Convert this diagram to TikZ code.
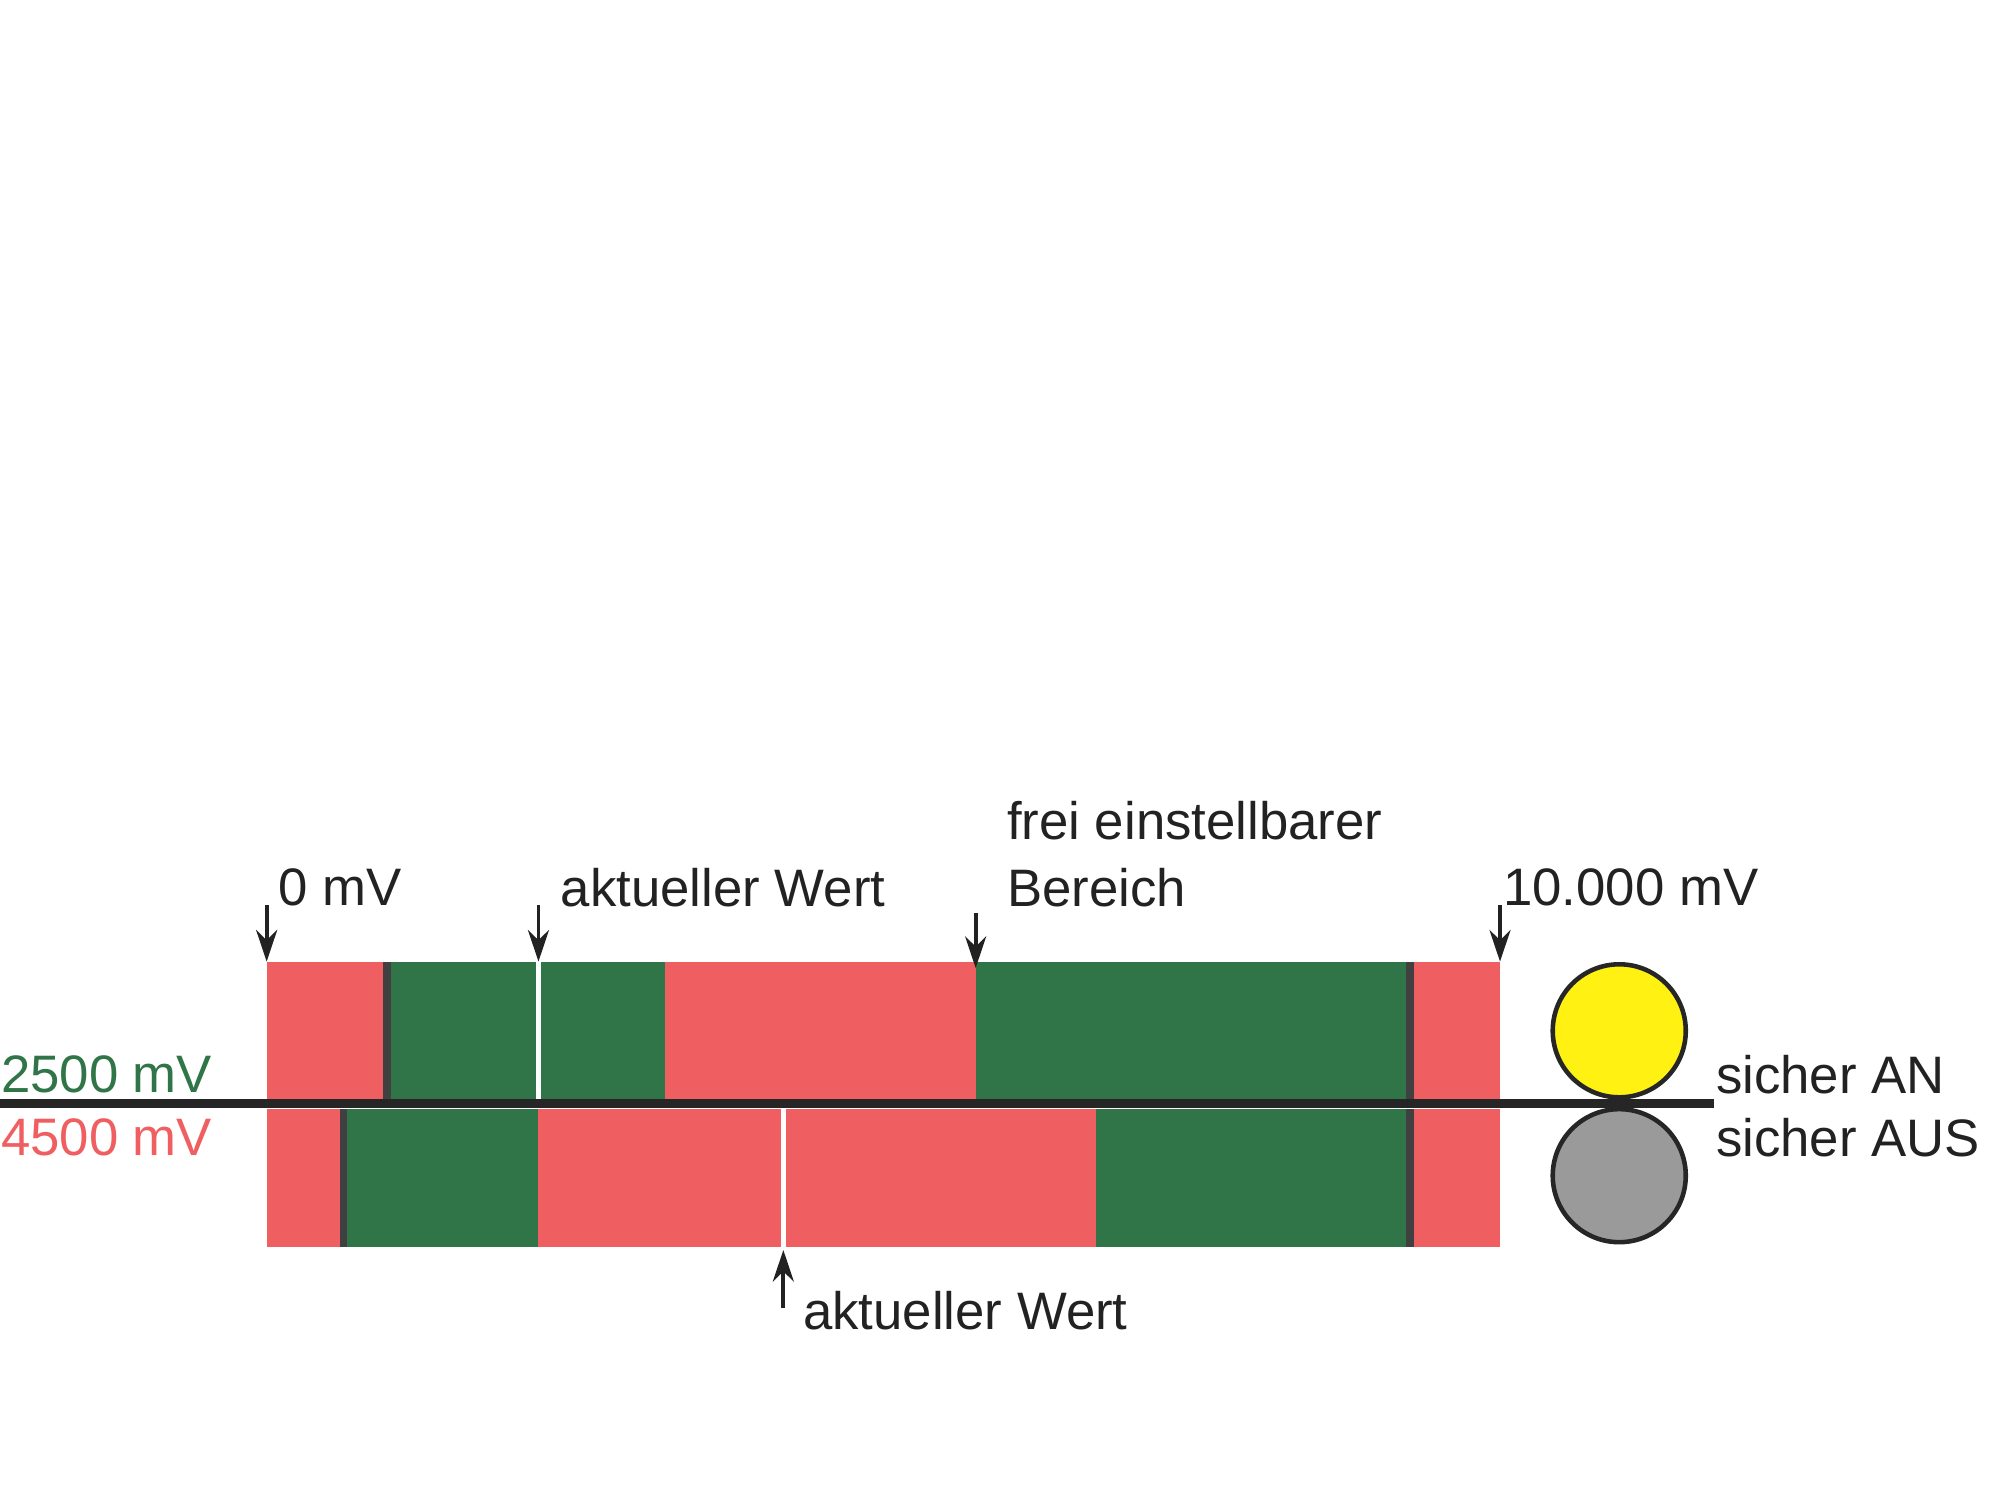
\documentclass[tikz,border=0pt]{standalone}
\usepackage{fontspec}
\setmainfont{Liberation Sans}
\usetikzlibrary{arrows.meta}
\definecolor{rd}{HTML}{EF5F61}
\definecolor{gn}{HTML}{307548}
\definecolor{ye}{HTML}{FFF212}
\definecolor{gy}{HTML}{9A9A9A}
\definecolor{txt}{HTML}{222222}
\begin{document}
\begin{tikzpicture}[x=0.01282cm,y=-0.01282cm,
  lbl/.style={inner sep=0pt,font=\fontsize{15}{18}\selectfont,text=txt},
  arr/.style={-{Stealth[length=9pt,width=6pt]},line width=1.1pt,txt},
  sep/.style={line width=2.2pt,draw=black!75},
  wsep/.style={line width=1.5pt,draw=white}]
\useasboundingbox (0,0) rectangle (1560,1170);
\clip (0,0) rectangle (1560,1170);
% top bar
\fill[rd] (208,750) rectangle (1170,858);
\fill[gn] (302,750) rectangle (519,858);
\fill[gn] (761,750) rectangle (1100,858);
\draw[sep] (302,750) -- (302,858);
\draw[sep] (1100,750) -- (1100,858);
\draw[wsep] (420,750) -- (420,858);
% bottom bar
\fill[rd] (208,865) rectangle (1170,973);
\fill[gn] (268,865) rectangle (420,973);
\fill[gn] (855,865) rectangle (1100,973);
\draw[sep] (268,865) -- (268,973);
\draw[sep] (1100,865) -- (1100,973);
\draw[wsep] (611,865) -- (611,973);
% line
\coordinate (l0) at (0,861);
\coordinate (l1) at (1337,861);
\draw[line width=2.5pt,black!85] (l0) -- (l1);
% circles
\node[circle,draw=black!85,line width=1.3pt,fill=ye,minimum size=1.33cm,inner sep=0pt] (an) at (1263,804) {};
\node[circle,draw=black!85,line width=1.3pt,fill=gy,minimum size=1.33cm,inner sep=0pt] (aus) at (1263,917) {};
% labels
\node[lbl,anchor=west] (z) at (217,692) {0 mV};
\node[lbl,anchor=west] (aw) at (437,692) {aktueller Wert};
\node[lbl,anchor=west] (fr) at (785,640) {frei einstellbarer};
\node[lbl,anchor=west] (be) at (785,692) {Bereich};
\node[lbl,anchor=west] (zt) at (1172,692) {10.000 mV};
\node[lbl,anchor=east,text=gn] (g) at (166,838) {2500 mV};
\node[lbl,anchor=east,text=rd] (r) at (166,887) {4500 mV};
\node[lbl,anchor=west] (san) at (1338,838) {sicher AN};
\node[lbl,anchor=west] (saus) at (1338,887) {sicher AUS};
\node[lbl,anchor=west] (aw2) at (626,1022) {aktueller Wert};
% arrows
\coordinate (a1s) at (208,706); \coordinate (a1e) at (208,750);
\coordinate (a2s) at (420,706); \coordinate (a2e) at (420,750);
\coordinate (a3s) at (761,712); \coordinate (a3e) at (761,755);
\coordinate (a4s) at (1170,706); \coordinate (a4e) at (1170,750);
\coordinate (a5s) at (611,1020); \coordinate (a5e) at (611,975);
\draw[arr] (a1s) -- (a1e);
\draw[arr] (a2s) -- (a2e);
\draw[arr] (a3s) -- (a3e);
\draw[arr] (a4s) -- (a4e);
\draw[arr] (a5s) -- (a5e);
\end{tikzpicture}
\end{document}
